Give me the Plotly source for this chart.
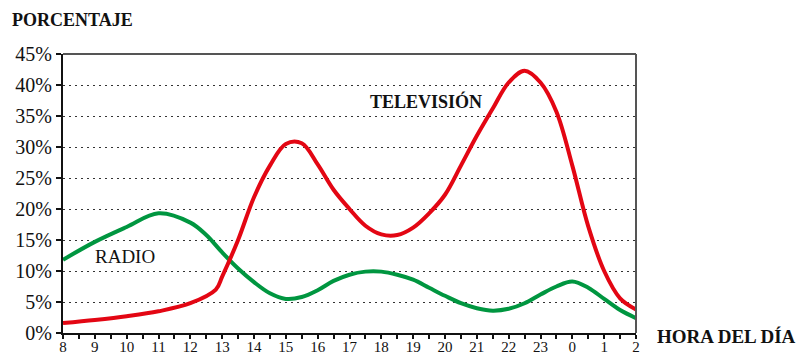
import plotly.graph_objects as go

# Hour of day (24, 25, 26 stand for 0, 1, 2 after midnight)
tv_hours = [8, 9, 10, 11, 12, 12.8, 13, 13.5, 14, 14.5, 15, 15.5, 16, 16.5, 17, 17.5,
            18, 18.5, 19, 19.5, 20, 20.5, 21, 21.5, 22, 22.5, 23, 23.5, 24, 24.5, 25, 25.5, 26]
tv_share = [1.6, 2.1, 2.7, 3.5, 4.8, 7.0, 9.1, 15.0, 21.9, 27.0, 30.5, 30.6, 27.2, 23.1, 20.0, 17.3,
            15.9, 15.8, 17.0, 19.3, 22.3, 27.0, 31.8, 36.2, 40.4, 42.3, 40.4, 35.7, 27.0, 17.2, 10.0, 5.6, 3.8]

radio_hours = [8, 9, 10, 11, 12, 12.5, 13, 13.5, 14, 14.5, 15, 15.5, 16, 16.5, 17, 17.5, 18,
               18.5, 19, 19.5, 20, 20.5, 21, 21.5, 22, 22.5, 23, 23.5, 24, 24.5, 25, 25.5, 26]
radio_share = [11.8, 14.7, 17.1, 19.3, 17.8, 15.8, 13.0, 10.4, 8.2, 6.4, 5.5, 5.8, 6.9, 8.4, 9.4, 9.9, 9.9,
               9.4, 8.6, 7.3, 6.0, 4.8, 4.0, 3.6, 3.9, 4.8, 6.2, 7.5, 8.3, 7.3, 5.5, 3.7, 2.4]

hour_ticks = list(range(8, 27))
hour_labels = [str(h % 24) for h in hour_ticks]
pct_ticks = list(range(0, 50, 5))
pct_labels = [f"{p}%" for p in pct_ticks]

RED = "#E30613"
GREEN = "#009640"
FONT = "'Liberation Serif', 'DejaVu Serif', serif"

# ticks every half hour, labels only on whole hours
tickvals = [h / 2 for h in range(16, 53)]
ticktext = [hour_labels[hour_ticks.index(int(v))] if v == int(v) else "" for v in tickvals]

fig = go.Figure()
fig.add_trace(go.Scatter(x=radio_hours, y=radio_share, mode="lines", name="Radio",
                         line=dict(color=GREEN, width=4, shape="spline", smoothing=1.0)))
fig.add_trace(go.Scatter(x=tv_hours, y=tv_share, mode="lines", name="Televisión",
                         line=dict(color=RED, width=4, shape="spline", smoothing=1.0)))

fig.update_layout(
    width=803, height=356,
    margin=dict(l=63, r=167, t=54, b=23, autoexpand=False),
    paper_bgcolor="white", plot_bgcolor="white",
    showlegend=False,
    font=dict(family=FONT, color="#111", size=20),
    xaxis=dict(range=[8, 26], tickvals=tickvals, ticktext=ticktext,
               ticks="outside", ticklen=4, tickwidth=1.5, tickcolor="#111",
               showline=True, linecolor="#111", linewidth=2,
               showgrid=False, zeroline=False, fixedrange=True, automargin=False,
               ticklabelstandoff=-5,
               tickfont=dict(size=15, family=FONT)),
    yaxis=dict(range=[0, 45], tickvals=pct_ticks, ticktext=pct_labels,
               ticks="outside", ticklen=5, tickwidth=1.5, tickcolor="#111",
               showline=True, linecolor="#111", linewidth=2,
               showgrid=True, gridcolor="#333", gridwidth=1, griddash="2px,4px",
               zeroline=False, fixedrange=True, automargin=False,
               tickfont=dict(size=20, family=FONT)),
    shapes=[
        dict(type="line", xref="paper", yref="paper", x0=0, x1=1, y0=1, y1=1,
             line=dict(color="#555", width=2)),
        dict(type="line", xref="paper", yref="paper", x0=1, x1=1, y0=0, y1=1,
             line=dict(color="#555", width=2)),
    ],
    annotations=[
        dict(text="<b>PORCENTAJE</b>", xref="paper", yref="paper", x=-53 / 573, y=1 + 34 / 279,
             xanchor="left", yanchor="middle", showarrow=False,
             font=dict(size=18, family=FONT, color="#111")),
        dict(text="<b>HORA DEL DÍA</b>", xref="paper", yref="paper", x=1 + 19 / 573, y=0 - 3 / 279,
             xanchor="left", yanchor="middle", showarrow=False,
             font=dict(size=19, family=FONT, color="#111")),
        dict(text="<b>TELEVISIÓN</b>", x=19.4, y=37.4, showarrow=False,
             font=dict(size=18, family=FONT, color="#111")),
        dict(text="RADIO", x=9.95, y=12.3, showarrow=False,
             font=dict(size=19, family=FONT, color="#111")),
    ],
)

fig.write_html("out.html")
